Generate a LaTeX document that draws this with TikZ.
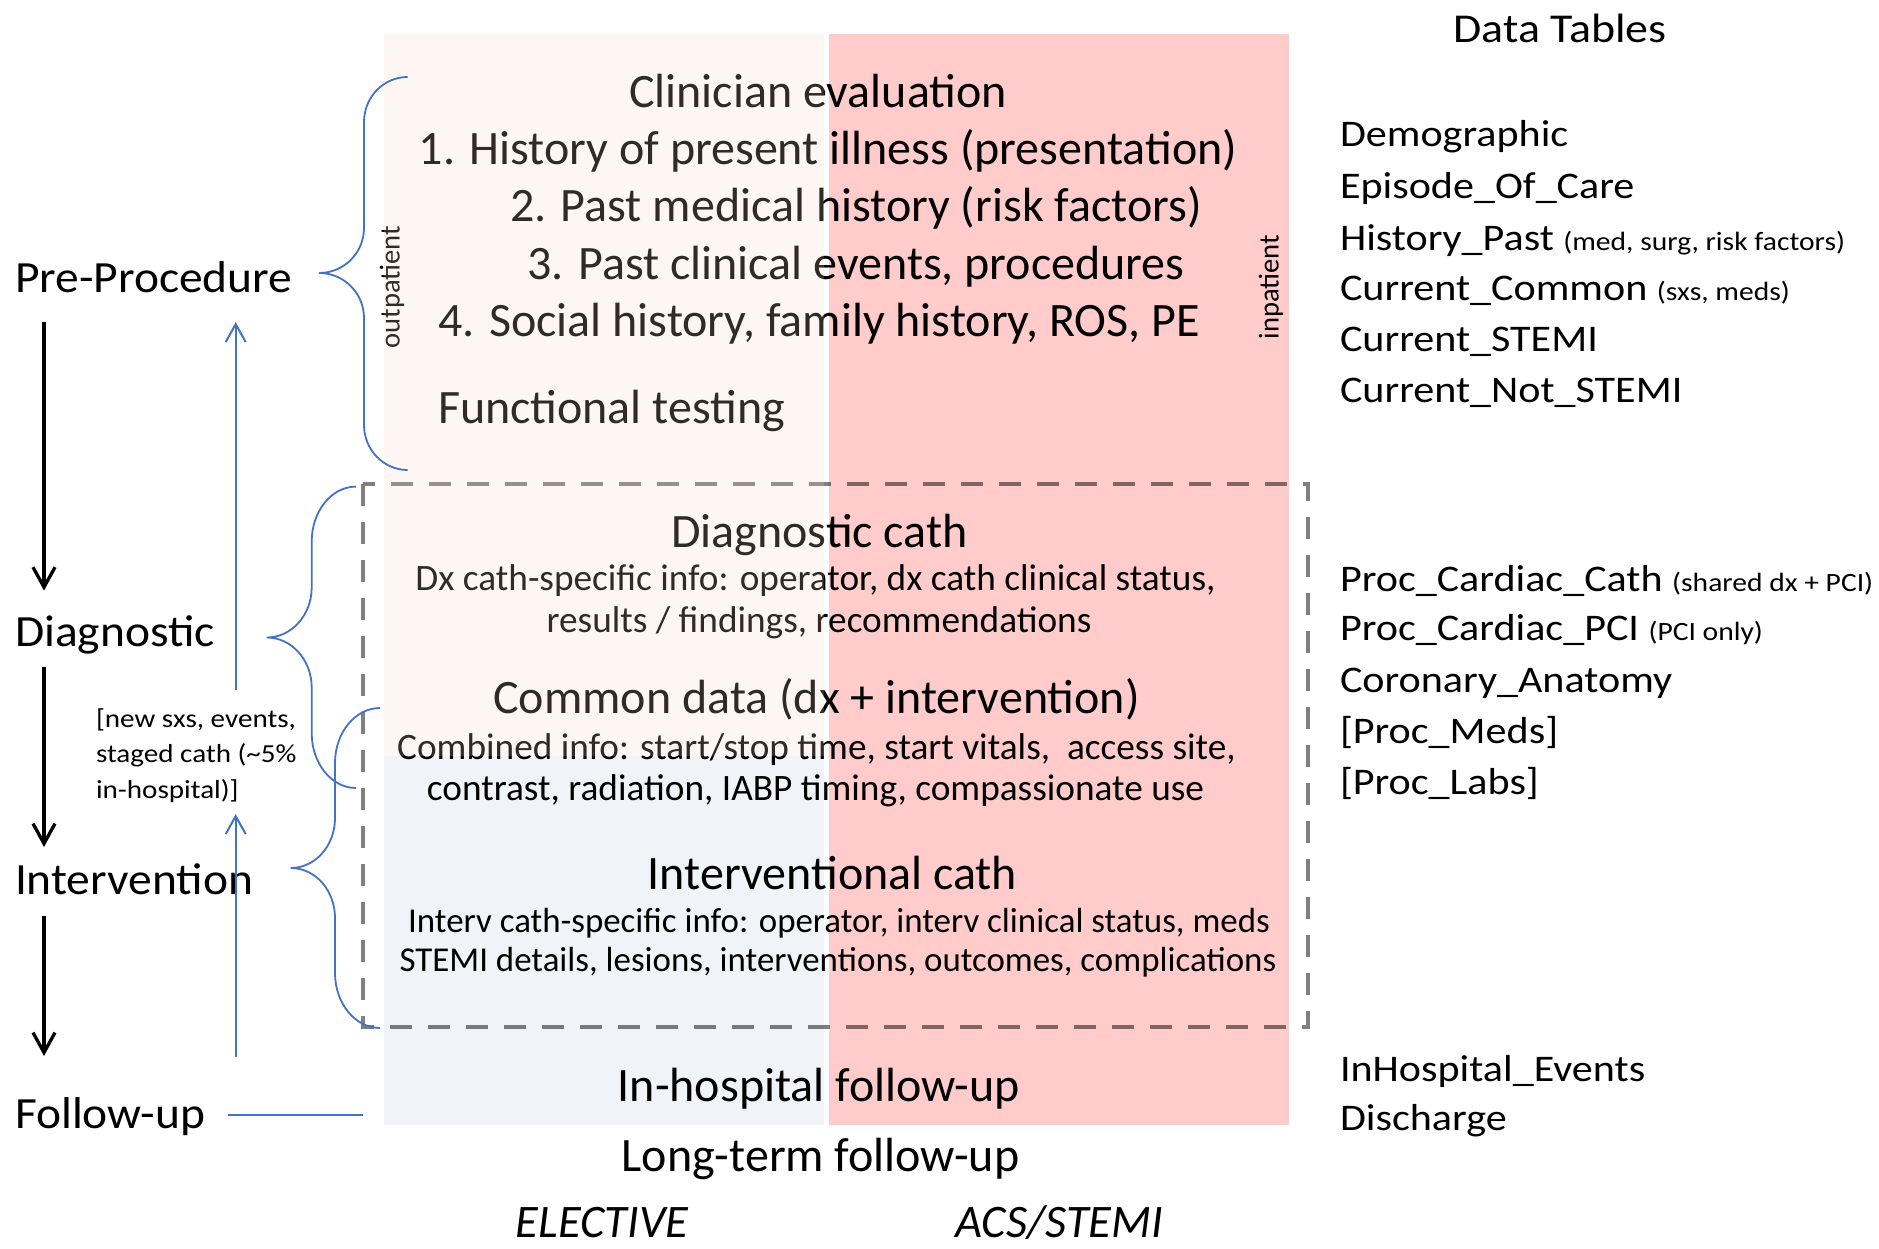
\documentclass[tikz,border=0pt]{standalone}
\usepackage{fontspec}
\setmainfont{Carlito}
\newfontfamily\widefont[FakeStretch=1.12]{Carlito}
\newfontfamily\lblfont[FakeStretch=1.065]{Carlito}
\usetikzlibrary{arrows.meta}

\definecolor{bracecol}{RGB}{68,114,196}
\definecolor{pinkbg}{RGB}{255,203,203}
\definecolor{bluebg}{RGB}{240,243,248}
\definecolor{beigetint}{RGB}{252,212,188}
\definecolor{dashgray}{RGB}{128,128,128}

\tikzset{
  txt/.style={inner sep=0pt, outer sep=0pt},
  head/.style={txt, anchor=base, font=\fontsize{24}{28}\selectfont},
  detail/.style={txt, anchor=base, font=\fontsize{18.65}{22}\selectfont},
  smalldetail/.style={txt, anchor=base, font=\fontsize{17.45}{21}\selectfont},
  stage/.style={txt, anchor=base west, font=\lblfont\fontsize{22.3}{27}\selectfont},
  tbl/.style={txt, anchor=base west, font=\widefont\fontsize{18.8}{22}\selectfont},
  note/.style={txt, anchor=base west, font=\widefont\fontsize{13}{16}\selectfont},
  side/.style={txt, rotate=90, font=\fontsize{14.3}{17}\selectfont},
  cohort/.style={txt, anchor=base, font=\itshape\fontsize{23.3}{28}\selectfont},
  flow/.style={line width=1.65pt, -{Straight Barb[length=10pt,width=11pt]}},
  loopback/.style={bracecol, line width=1pt, -{Straight Barb[length=9pt,width=10pt]}},
  brace/.style={bracecol, line width=0.9pt},
  frame/.style={dashgray, line width=2.4pt, dash pattern=on 11pt off 8pt},
}
\newcommand{\tblsmall}[1]{{\fontsize{13.2}{16}\selectfont #1}}

\begin{document}
\begin{tikzpicture}[x=0.5pt,y=-0.5pt]
\useasboundingbox (0,0) rectangle (1879,1248);

% coloured columns: elective (left) and ACS/STEMI (right)
\fill[pinkbg] (829,34) rectangle (1289,1125);
\fill[bluebg] (384,756) rectangle (824,1125);

% pre-procedure content
\node[head] (clin) at (818,107) {Clinician evaluation};
\node[head] (h1) at (828,164) {1. History of present illness (presentation)};
\node[head] (h2) at (856,221.7) {2. Past medical history (risk factors)};
\node[head] (h3) at (856,279.3) {3. Past clinical events, procedures};
\node[head] (h4) at (819,336) {4. Social history, family history, ROS, PE};
\node[head, anchor=base west] (func) at (438,423) {Functional testing};
\node[side] (outp) at (392,287) {outpatient};
\node[side] (inp) at (1271,287) {inpatient};

% catheterisation content
\node[head] (dxcath) at (819.5,547) {Diagnostic cath};
\node[detail] (dx1) at (815.5,590) {Dx cath-specific info: operator, dx cath clinical status,};
\node[detail] (dx2) at (819,632.5) {results / findings, recommendations};
\node[head] (common) at (816.5,713) {Common data (dx + intervention)};
\node[detail] (cb1) at (816.5,759) {Combined info: start/stop time, start vitals,\ \ access site,};
\node[detail] (cb2) at (815.5,800) {contrast, radiation, IABP timing, compassionate use};
\node[head] (intcath) at (832.5,889.6) {Interventional cath};
\node[smalldetail] (iv1) at (839,932.5) {Interv cath-specific info: operator, interv clinical status, meds};
\node[smalldetail] (iv2) at (838,971.8) {STEMI details, lesions, interventions, outcomes, complications};

% follow-up content
\node[head] (inhosp) at (819,1101.7) {In-hospital follow-up};
\node[head] (longterm) at (820.5,1171.7) {Long-term follow-up};
\node[cohort] (elective) at (602,1237) {ELECTIVE};
\node[cohort] (acs) at (1059.5,1237) {ACS/STEMI};

% dashed frame around the procedure block, multiplied onto the columns
\begin{scope}[blend mode=multiply]
\draw[frame] (363,484) rectangle (1308,1027);
\end{scope}

% light tint over the elective upper column
\fill[beigetint, fill opacity=0.2] (384,34) rectangle (824,756);

% stages
\node[stage] (pre) at (15,292) {Pre-Procedure};
\node[stage] (diag) at (15,646) {Diagnostic};
\node[stage] (interv) at (15,894) {Intervention};
\node[stage] (follow) at (15,1128.6) {Follow-up};
\node[note] (n1) at (96,727) {[new sxs, events,};
\node[note] (n2) at (96,762.5) {staged cath (\textasciitilde 5\%};
\node[note] (n3) at (96,798) {in-hospital)]};

% forward flow between stages
\coordinate (f1a) at (44,322);   \coordinate (f1b) at (44,590.6);
\coordinate (f2a) at (44,667);   \coordinate (f2b) at (44,847);
\coordinate (f3a) at (44,915.6); \coordinate (f3b) at (44,1056);
\draw[flow] (f1a) -- (f1b);
\draw[flow] (f2a) -- (f2b);
\draw[flow] (f3a) -- (f3b);

% return paths
\coordinate (b1a) at (235.7,690);  \coordinate (b1b) at (235.7,322);
\coordinate (b2a) at (235.7,1057); \coordinate (b2b) at (235.7,814);
\draw[loopback] (b1a) -- (b1b);
\draw[loopback] (b2a) -- (b2b);
\coordinate (fl1) at (228,1115); \coordinate (fl2) at (363,1115);
\draw[brace] (fl1) -- (fl2);

% curly braces
\draw[brace] (407.6,77) .. controls (383.6,77) and (364,97) .. (364,122)
  -- (364,228) .. controls (364,252.8) and (344,273) .. (319,273)
  .. controls (344,273) and (364,293.2) .. (364,318)
  -- (364,425) .. controls (364,449.8) and (383.6,470) .. (407.6,470);
\draw[brace] (356,486.6) .. controls (331.5,486.6) and (311.7,511.2) .. (311.7,541.6)
  -- (311.7,587.5) .. controls (311.7,615.1) and (291.5,637.5) .. (266.7,637.5)
  .. controls (291.5,637.5) and (311.7,659.9) .. (311.7,687.5)
  -- (311.7,733) .. controls (311.7,763.4) and (331.5,788) .. (356,788);
\draw[brace] (380,708) .. controls (355.2,708) and (335,732.6) .. (335,763)
  -- (335,818) .. controls (335,845.6) and (315.5,868) .. (290.7,868)
  .. controls (315.5,868) and (335,890.4) .. (335,918)
  -- (335,973) .. controls (335,1003.4) and (355.2,1028) .. (380,1028);

% data tables
\node[tbl, anchor=base, font=\widefont\fontsize{20.5}{24}\selectfont] (dt) at (1560,42) {Data Tables};
\node[tbl] (t1) at (1340,146.7) {Demographic};
\node[tbl] (t2) at (1340,198.3) {Episode\_Of\_Care};
\node[tbl] (t3) at (1340,250) {History\_Past \tblsmall{(med, surg, risk factors)}};
\node[tbl] (t4) at (1340,300.7) {Current\_Common \tblsmall{(sxs, meds)}};
\node[tbl] (t5) at (1340,351.7) {Current\_STEMI};
\node[tbl] (t6) at (1340,402.7) {Current\_Not\_STEMI};
\node[tbl] (t7) at (1340,591) {Proc\_Cardiac\_Cath \tblsmall{(shared dx + PCI)}};
\node[tbl] (t8) at (1340,640.5) {Proc\_Cardiac\_PCI \tblsmall{(PCI only)}};
\node[tbl] (t9) at (1340,692) {Coronary\_Anatomy};
\node[tbl] (t10) at (1340,743) {[Proc\_Meds]};
\node[tbl] (t11) at (1340,794.7) {[Proc\_Labs]};
\node[tbl] (t12) at (1340,1081) {InHospital\_Events};
\node[tbl] (t13) at (1340,1130.7) {Discharge};
\end{tikzpicture}
\end{document}
